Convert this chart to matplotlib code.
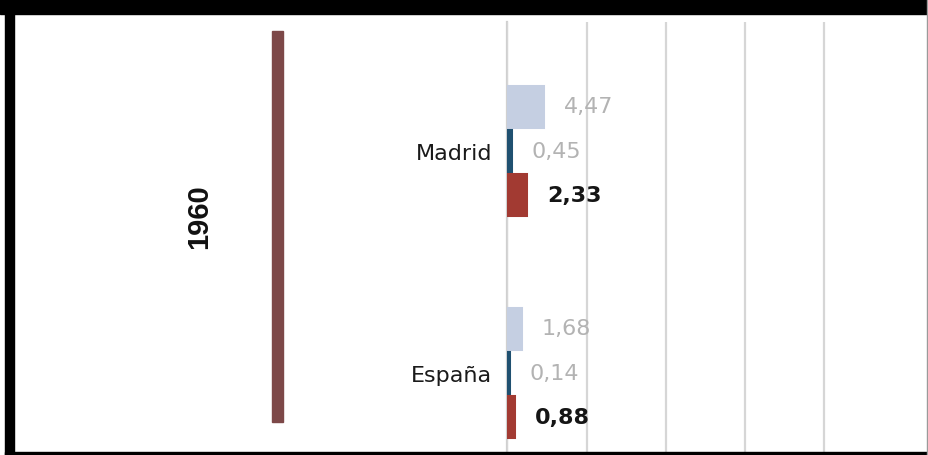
import numpy as np
import matplotlib
matplotlib.use("Agg")
import matplotlib.pyplot as plt
from matplotlib.patches import Rectangle

# datos (1960)
regiones = ["España", "Madrid"]
serie_clara = [1.68, 4.47]
serie_oscura = [0.14, 0.45]
serie_roja = [0.88, 2.33]
anio = "1960"

W, H = 929, 456
fig = plt.figure(figsize=(W / 100, H / 100), dpi=100)
fig.patch.set_facecolor("white")

# area del grafico en pixeles
x0, x1 = 507.5, 880
y_top, y_bot = 23, 453
ax = fig.add_axes([x0 / W, (H - y_bot) / H, (x1 - x0) / W, (y_bot - y_top) / H])

y = np.arange(len(regiones))
h = 0.185
lw = 2.2
b1 = ax.barh(y + 0.2, serie_clara, height=h, color="#c5cfe2", edgecolor="#c5cfe2", linewidth=lw)
b2 = ax.barh(y, serie_oscura, height=h, color="#1f5070", edgecolor="#1f5070", linewidth=lw)
b3 = ax.barh(y - 0.2, serie_roja, height=h, color="#a23a32", edgecolor="#a23a32", linewidth=lw)

fmt = lambda vals: [f"{v:.2f}".replace(".", ",") for v in vals]
ax.bar_label(b1, labels=fmt(serie_clara), padding=15, fontsize=16, color="#b3b3b3")
ax.bar_label(b2, labels=fmt(serie_oscura), padding=15, fontsize=16, color="#b3b3b3")
ax.bar_label(b3, labels=fmt(serie_roja), padding=15, fontsize=16, color="#151515",
             fontweight="bold")

ax.set_xlim(0, (x1 - x0) / 7.92)
ax.set_ylim(-0.358, 1.579)
ax.set_xticks(np.arange(0, 50, 10))
ax.tick_params(axis="x", length=0, labelbottom=False)
ax.set_yticks(y)
ax.set_yticklabels(regiones, fontsize=16, color="#1a1a1a")
ax.tick_params(axis="y", length=0, pad=11)
ax.grid(axis="x", color="#d6d6d6", linewidth=1.6)
ax.axvline(0, color="#d0d0d0", linewidth=1.6, clip_on=False, zorder=0.5)
ax.set_axisbelow(True)
for s in ax.spines.values():
    s.set_visible(False)

# barra vertical del grupo y etiqueta del año
fig.patches.append(Rectangle((272 / W, (H - 423) / H), 11 / W, (423 - 32) / H,
                             transform=fig.transFigure, color="#7d4848"))
fig.text(199 / W, 1 - 217 / H, anio, rotation=90, ha="center", va="center",
         fontsize=21, fontweight="bold", family="Liberation Sans", color="#111111")

# marco negro de la captura
fig.patches.append(Rectangle((0, (H - 15) / H), 1, 15 / H, transform=fig.transFigure,
                             color="black"))
fig.patches.append(Rectangle((5 / W, 0), 9 / W, 1, transform=fig.transFigure,
                             color="black"))
fig.patches.append(Rectangle((5 / W, 0), 1, 3 / H, transform=fig.transFigure,
                             color="black"))
fig.patches.append(Rectangle((927 / W, 0), 2 / W, 1, transform=fig.transFigure,
                             color="#9a9a9a"))

fig.savefig("out.png", dpi=100)
